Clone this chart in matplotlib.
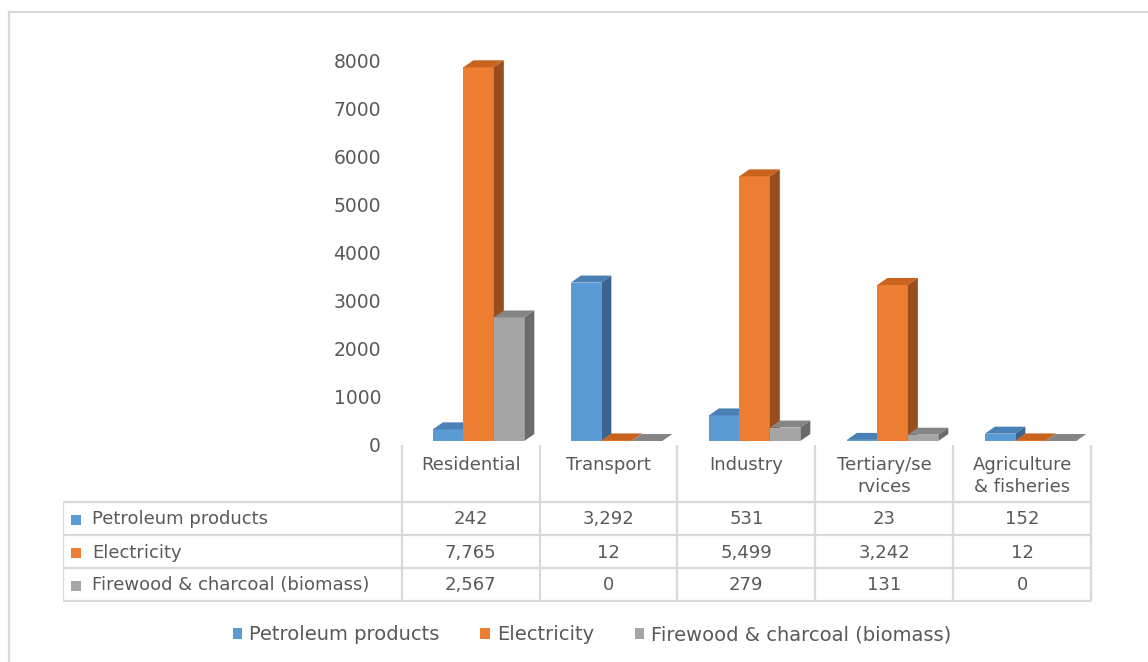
import matplotlib
matplotlib.use('agg')
from matplotlib import pyplot as plt
from matplotlib.patches import Polygon, Patch
from matplotlib.lines import Line2D
from matplotlib.transforms import ScaledTranslation
import numpy as np

plt.rcParams['font.family'] = ['DejaVu Sans']

categories = ["Residential", "Transport", "Industry", "Tertiary/se\nrvices", "Agriculture\n& fisheries"]
series_names = ["Petroleum products", "Electricity", "Firewood & charcoal (biomass)"]
petroleum = [242, 3292, 531, 23, 152]
electricity = [7765, 12, 5499, 3242, 12]
biomass = [2567, 0, 279, 131, 0]
y_ticks = [0, 1000, 2000, 3000, 4000, 5000, 6000, 7000, 8000]

series = [petroleum, electricity, biomass]
face_cols = ['#5b9bd5', '#ed7d31', '#a5a5a5']
top_cols = ['#4a80b5', '#c8641f', '#858585']
side_cols = ['#3b6590', '#9a4d1c', '#6b6b6b']
grid_col = '#d9d9d9'
text_col = '#595959'

W, H, DPI = 1148, 662, 100
fig = plt.figure(figsize=(W / DPI, H / DPI), dpi=DPI)

def fx(px):
    return px / W

def fy(py):
    return 1 - py / H

# outer frame
fig.add_artist(Line2D([fx(9), 1], [fy(12), fy(12)], color=grid_col, lw=1.6))
fig.add_artist(Line2D([fx(9), fx(9)], [0, fy(12)], color=grid_col, lw=1.6))

# bar axes: category i spans [i, i+1], value 0 at y=441px, 385px per 8000
px_per_unit = 385 / 8000
ymax = 8500
top_px = 441 - ymax * px_per_unit
ax = fig.add_axes([fx(402), fy(441), fx(1092) - fx(402), (441 - top_px) / H])
ax.set_xlim(0, len(categories))
ax.set_ylim(0, ymax)
ax.axis('off')

bw = 0.221
dx = 10 / 138
dy = 7 / px_per_unit
for i in range(len(categories)):
    left0 = i + 0.5 + 0.055 - 1.5 * bw
    for s, vals in enumerate(series):
        x0 = left0 + s * bw
        h = vals[i]
        ax.bar(x0, h, width=bw, align='edge', color=face_cols[s], linewidth=0, zorder=2 + s)
        ax.add_patch(Polygon([(x0, h), (x0 + bw, h), (x0 + bw + dx, h + dy), (x0 + dx, h + dy)],
                             closed=True, facecolor=top_cols[s], edgecolor='none', zorder=2 + s))
        ax.add_patch(Polygon([(x0 + bw, 0), (x0 + bw, h), (x0 + bw + dx, h + dy), (x0 + bw + dx, dy)],
                             closed=True, facecolor=side_cols[s], edgecolor='none', zorder=2 + s))

# y tick labels (drawn a bit lower, like the back wall of the 3D chart)
off = ScaledTranslation(0, -6 / DPI, fig.dpi_scale_trans)
for t in y_ticks:
    ax.text(-21 / 690, t, str(t), transform=ax.get_yaxis_transform() + off,
            ha='right', va='center', fontsize=13.5, color=text_col)

# data table
tab = fig.add_axes([fx(63), fy(602), fx(1093) - fx(63), (602 - 445) / H])
tab.set_xlim(-339 / 138, 1031 / 138 - 339 / 138)
tab.set_ylim(602, 445)
tab.axis('off')
x_lab = -339 / 138
ncat = len(categories)
row_lines = [502, 535, 568, 601]
for yl in row_lines:
    tab.plot([x_lab, ncat], [yl, yl], color=grid_col, lw=1.6, solid_capstyle='butt')
for i in range(ncat + 1):
    tab.plot([i, i], [445, 601], color=grid_col, lw=1.6, solid_capstyle='butt')
tab.plot([x_lab, x_lab], [502, 601], color=grid_col, lw=1.6, solid_capstyle='butt')

for i, c in enumerate(categories):
    tab.text(i + 0.5, 456, c, ha='center', va='top', fontsize=13, color=text_col,
             linespacing=1.3)

for r, (name, vals) in enumerate(zip(series_names, series)):
    yc = (row_lines[r] + row_lines[r + 1]) / 2 + 1
    tab.scatter([x_lab + 13 / 138], [yc], marker='s', s=60, color=face_cols[r], linewidths=0)
    tab.text(x_lab + 29 / 138, yc, name, ha='left', va='center', fontsize=13, color=text_col)
    for i, v in enumerate(vals):
        tab.text(i + 0.5, yc, f"{v:,}", ha='center', va='center', fontsize=13, color=text_col)

# legend
handles = [Patch(facecolor=c, edgecolor='none') for c in face_cols]
leg = fig.legend(handles, series_names, loc='center', bbox_to_anchor=(fx(592), fy(635)),
                 ncol=3, frameon=False, handlelength=0.5, handleheight=0.5,
                 handletextpad=0.35, columnspacing=2.1, fontsize=14)
for t in leg.get_texts():
    t.set_color(text_col)

fig.savefig('out.png', dpi=DPI)
